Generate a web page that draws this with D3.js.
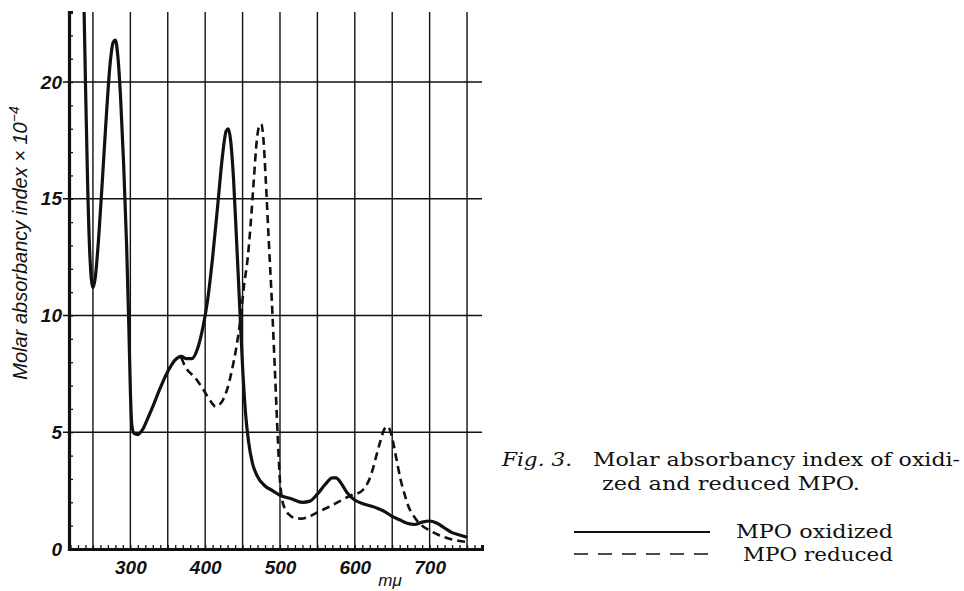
<!DOCTYPE html>
<html><head><meta charset="utf-8">
<script src="https://cdn.jsdelivr.net/npm/d3@7"></script>
<style>body{margin:0;background:#fff}</style>
</head><body><svg id="c" width="964" height="591"></svg>
<script>
// ---- data (wavelength in mμ, molar absorbancy index × 10^-4) ----
const oxidized = [
  [237,25],[240,20],[243,15.5],[246,12.5],[250,11.2],[253,11.6],[258,13.5],[263,16],[268,18.6],
  [273,20.8],[277,21.7],[280,21.8],[283,21.2],[287,19.3],[291,16.5],[295,13],[298,9.5],
  [300,6.8],[302,5.3],[305,4.95],[310,4.9],[316,5.1],[322,5.5],[330,6.1],[340,6.9],[350,7.6],
  [360,8.1],[368,8.25],[375,8.15],[382,8.15],[390,8.6],[397,9.5],[403,10.6],[410,12.5],
  [417,14.8],[423,16.8],[428,17.9],[431,18.0],[434,17.5],[438,15.8],[442,13.2],[446,10.5],
  [450,7.8],[454,5.8],[458,4.6],[463,3.7],[470,3.1],[480,2.7],[490,2.5],[500,2.3],[515,2.15],
  [530,2.0],[540,2.05],[550,2.35],[560,2.75],[570,3.05],[575,3.05],[582,2.8],[590,2.4],
  [600,2.1],[610,1.95],[620,1.85],[630,1.75],[640,1.6],[650,1.4],[660,1.25],[670,1.1],
  [680,1.05],[690,1.15],[700,1.2],[710,1.1],[720,0.9],[730,0.7],[740,0.6],[750,0.5]
];
const reduced = [
  [368,8.2],[372,7.9],[378,7.6],[385,7.4],[392,7.1],[400,6.7],[408,6.3],[414,6.1],[418,6.15],
  [424,6.4],[430,6.9],[436,7.7],[442,8.7],[447,9.8],[452,11.3],[457,12.5],[461,14],[465,15.8],
  [469,17.5],[472,18.1],[475,18.2],[478,17.5],[481,15.8],[485,13.2],[489,10.7],[493,7.8],
  [497,4.8],[500,2.9],[503,2.1],[507,1.7],[513,1.45],[520,1.32],[528,1.3],[540,1.4],[552,1.6],
  [565,1.8],[580,2.05],[595,2.3],[608,2.45],[615,2.7],[622,3.2],[628,3.9],[634,4.6],[639,5.1],
  [643,5.25],[647,5.1],[651,4.6],[656,3.8],[661,3.0],[666,2.4],[672,1.8],[680,1.35],[690,1.0],
  [700,0.8],[712,0.6],[725,0.45],[738,0.35],[750,0.3]
];
const xTickLabels = [300,400,500,600,700];
const yTickLabels = [0,5,10,15,20];
const xGridValues = [250,300,350,400,450,500,550,600,650,700,750];
const yGridValues = [5,10,15,20];
const xMinorTicks = d3.range(220,771,10);
const yMinorTicks = d3.range(0,24,1);
const seriesNames = ["MPO oxidized","MPO reduced"];
const yTitle = "Molar absorbancy index × 10";
const xTitle = "mμ";
const captionLead = "Fig. 3.";
const captionLine1 = "Molar absorbancy index of oxidi-";
const captionLine2 = "zed and reduced MPO.";

// ---- layout ----
const svg = d3.select("#c");
svg.append("rect").attr("width",964).attr("height",591).attr("fill","#fff");
const x = d3.scaleLinear().domain([218,770]).range([69,482]);
const y = d3.scaleLinear().domain([0,23]).range([549,12]);
const ink = "#111";
const sans = "'Liberation Sans', Arial, sans-serif";
const serif = "'DejaVu Serif', serif";

// grid
const grid = svg.append("g").attr("stroke",ink).attr("stroke-width",1.4);
grid.selectAll(".vg").data(xGridValues).join("line")
  .attr("x1",d=>x(d)).attr("x2",d=>x(d)).attr("y1",y(23)).attr("y2",y(0));
grid.selectAll(".hg").data(yGridValues).join("line")
  .attr("x1",x(218)-6).attr("x2",x(770)).attr("y1",d=>y(d)).attr("y2",d=>y(d));

// minor ticks via axes
const gxm = svg.append("g").attr("transform",`translate(0,${y(0)})`)
  .call(d3.axisBottom(x).tickValues(xMinorTicks).tickSize(-4).tickFormat(""));
gxm.selectAll(".tick line").attr("stroke",ink).attr("stroke-width",1.3);
gxm.select(".domain").attr("stroke",ink).attr("stroke-width",3);

const gym = svg.append("g").attr("transform",`translate(${x(218)},0)`)
  .call(d3.axisLeft(y).tickValues(yMinorTicks).tickSize(-4).tickFormat(""));
gym.selectAll(".tick line").attr("stroke",ink).attr("stroke-width",1.3);
gym.select(".domain").attr("stroke",ink).attr("stroke-width",3.2);

// tick labels via axes
const gx = svg.append("g").attr("transform",`translate(0,${y(0)})`)
  .call(d3.axisBottom(x).tickValues(xTickLabels).tickSize(0).tickPadding(12));
gx.select(".domain").remove();
gx.selectAll("text").attr("font-family",sans).attr("font-style","italic").attr("font-weight","bold")
  .attr("font-size",19).attr("fill",ink);

const gy = svg.append("g").attr("transform",`translate(${x(218)},0)`)
  .call(d3.axisLeft(y).tickValues(yTickLabels).tickSize(0).tickPadding(7));
gy.select(".domain").remove();
gy.selectAll("text").attr("font-family",sans).attr("font-style","italic").attr("font-weight","bold")
  .attr("font-size",19).attr("fill",ink);

// axis titles
svg.append("text").attr("x",390).attr("y",586).attr("text-anchor","middle")
  .attr("font-family",sans).attr("font-style","italic").attr("font-size",17).attr("fill",ink)
  .text(xTitle);
const yt = svg.append("text").attr("transform","translate(27,243) rotate(-90)")
  .attr("text-anchor","middle").attr("font-family",sans).attr("font-style","italic")
  .attr("font-size",20).attr("fill",ink);
yt.append("tspan").text(yTitle);
yt.append("tspan").attr("dy",-8).attr("font-size",14).text("−4");

// curves
svg.append("clipPath").attr("id","clip").append("rect")
  .attr("x",x(218)).attr("y",y(23)).attr("width",x(770)-x(218)).attr("height",y(0)-y(23));
const line = d3.line().x(d=>x(d[0])).y(d=>y(d[1])).curve(d3.curveMonotoneX);
const curves = svg.append("g").attr("clip-path","url(#clip)").attr("fill","none").attr("stroke",ink);
curves.append("path").datum(oxidized).attr("d",line).attr("stroke-width",3.2)
  .attr("stroke-linejoin","round");
curves.append("path").datum(reduced).attr("d",line).attr("stroke-width",2.6)
  .attr("stroke-dasharray","8,5");

// caption
const cap = svg.append("g").attr("font-family",serif).attr("font-size",19).attr("fill",ink);
cap.append("text").attr("x",502).attr("y",466).attr("font-style","italic")
  .attr("textLength",70).attr("lengthAdjust","spacingAndGlyphs").text(captionLead);
cap.append("text").attr("x",593).attr("y",466)
  .attr("textLength",367).attr("lengthAdjust","spacingAndGlyphs").text(captionLine1);
cap.append("text").attr("x",602).attr("y",490)
  .attr("textLength",258).attr("lengthAdjust","spacingAndGlyphs").text(captionLine2);

// legend
const leg = [{y:532,dash:null},{y:554,dash:"14,10"}];
leg.forEach((l,i)=>{
  svg.append("line").attr("x1",574).attr("x2",710).attr("y1",l.y).attr("y2",l.y)
    .attr("stroke",ink).attr("stroke-width",i===0?2:1.6).attr("stroke-dasharray",l.dash);
});
svg.append("text").attr("x",736).attr("y",538).attr("font-family",serif).attr("font-size",19)
  .attr("fill",ink).attr("textLength",157).attr("lengthAdjust","spacingAndGlyphs").text(seriesNames[0]);
svg.append("text").attr("x",743).attr("y",561).attr("font-family",serif).attr("font-size",19)
  .attr("fill",ink).attr("textLength",150).attr("lengthAdjust","spacingAndGlyphs").text(seriesNames[1]);
</script></body></html>
